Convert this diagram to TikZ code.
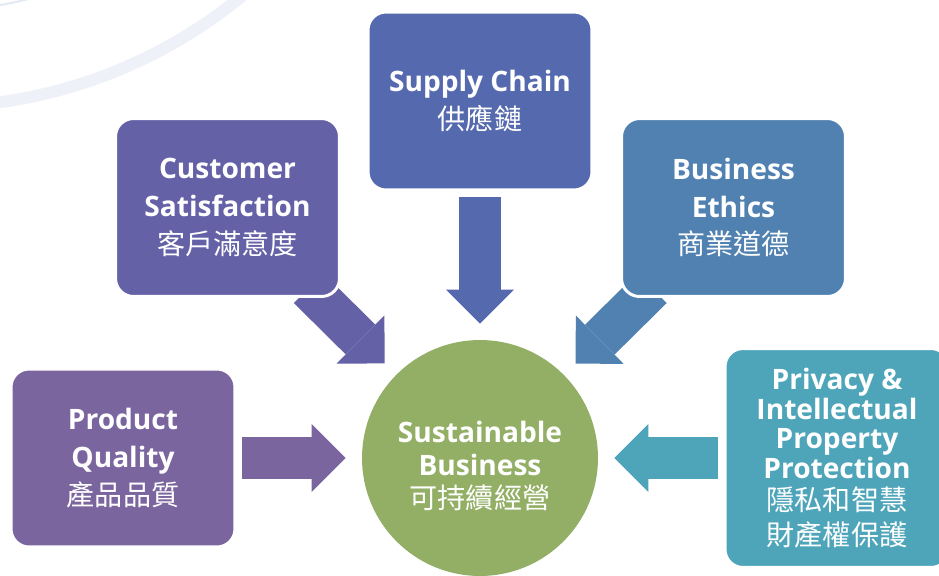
\documentclass[tikz,border=0pt]{standalone}
\usepackage{fontspec}
\setmainfont{Open Sans}
\newfontfamily\cjk{Noto Sans CJK TC}
\usepackage{xcolor}
\usepackage{tikz}
\usetikzlibrary{arrows.meta}
\usetikzlibrary{backgrounds}

\definecolor{supplyblue}{HTML}{5569AE}
\definecolor{custpurple}{HTML}{6461A7}
\definecolor{ethicsblue}{HTML}{5081B1}
\definecolor{prodpurple}{HTML}{7A659F}
\definecolor{privteal}{HTML}{4EA5BA}
\definecolor{hubgreen}{HTML}{93AF66}
\definecolor{ringblue}{HTML}{EEF2F8}
\definecolor{ringline}{HTML}{E2E9F3}

% chinese line under the english title
\newcommand\zh[1]{{\mdseries\cjk #1}}

\begin{document}
\begin{tikzpicture}[x=0.02cm, y=-0.02cm,
  box/.style={draw=white, line width=0.06cm, rounded corners=0.36cm,
    minimum width=4.48cm, minimum height=3.56cm, inner sep=0pt,
    text=white, align=center, font=\bfseries\fontsize{16}{21.5}\selectfont},
  flow/.style={line width=0.84cm, shorten >=0.32cm, shorten <=0.12cm,
    -{Triangle[length=0.68cm,width=1.36cm,line width=0pt]}}]
\useasboundingbox (0,0) rectangle (939,575);

% the five topics around the centre
\node [box, fill=supplyblue] (supply) at (480,101) {Supply Chain\\\zh{供應鏈}};
\node [box, fill=custpurple] (customer) at (227.5,207.5) {Customer\\Satisfaction\\\zh{客戶滿意度}};
\node [box, fill=ethicsblue] (ethics) at (733.5,207.5) {Business\\Ethics\\\zh{商業道德}};
\node [box, fill=prodpurple] (quality) at (123,458) {Product\\Quality\\\zh{產品品質}};
\node [box, fill=privteal, minimum height=4.38cm, font=\bfseries\fontsize{16}{17}\selectfont]
  (privacy) at (837,458) {Privacy \&\\Intellectual\\Property\\Protection\\[1pt]\zh{隱私和智慧}\\[3pt]\zh{財產權保護}};

% green circle in the middle, title set a little low
\node [circle, fill=hubgreen, minimum size=4.72cm, inner sep=0pt] (hub) at (480,458) {};
\node [text=white, align=center, font=\bfseries\fontsize{16}{19}\selectfont]
  (hubtitle) at (480,466) {Sustainable\\Business\\\zh{可持續經營}};

\begin{scope}[on background layer]
  \clip (0,0) rectangle (939,575);
  \draw [ringblue, line width=0.24cm] (-68,-382) circle [radius=9.78cm];
  \draw [ringline, line width=0.04cm] (-68,-382) circle [radius=7.86cm];

  \draw [flow, supplyblue] (supply) -- (hub);
  \draw [flow, custpurple, shorten <=-0.28cm] (customer) -- (hub);
  \draw [flow, ethicsblue, shorten <=-0.28cm] (ethics) -- (hub);
  \draw [flow, prodpurple] (quality) -- (hub);
  \draw [flow, privteal] (privacy) -- (hub);
\end{scope}
\end{tikzpicture}
\end{document}
